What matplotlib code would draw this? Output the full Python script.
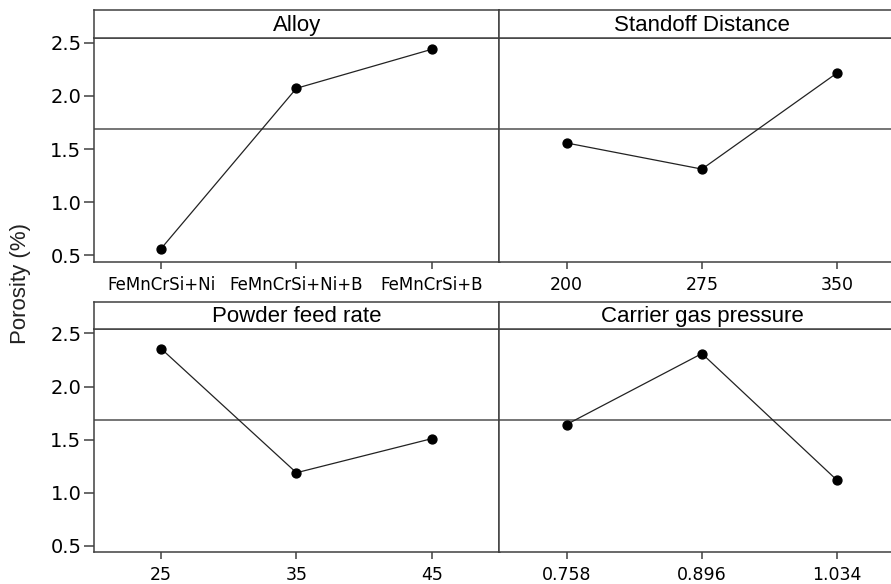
import matplotlib
matplotlib.use('Agg')
import matplotlib.pyplot as plt
import numpy as np

# main effects for porosity (%)
factors = ['Alloy', 'Standoff Distance', 'Powder feed rate', 'Carrier gas pressure']
levels = [
    ['FeMnCrSi+Ni', 'FeMnCrSi+Ni+B', 'FeMnCrSi+B'],
    ['200', '275', '350'],
    ['25', '35', '45'],
    ['0.758', '0.896', '1.034'],
]
alloy_means = [0.562, 2.071, 2.438]
standoff_means = [1.557, 1.311, 2.217]
feed_means = [2.358, 1.189, 1.510]
gas_means = [1.643, 2.311, 1.116]
all_means = [alloy_means, standoff_means, feed_means, gas_means]
yticks = [0.5, 1.0, 1.5, 2.0, 2.5]

W, H = 891, 584
fig = plt.figure(figsize=(W / 100, H / 100), dpi=100)
frame_c = '#404040'


def rect(x0, y0, x1, y1):
    # pixel box (top-left origin) -> figure fraction
    return [x0 / W, 1 - y1 / H, (x1 - x0) / W, (y1 - y0) / H]


# (left, right) x pixels and (strip top, data top, data bottom) y pixels
cols = [(94, 499.5), (499.5, 905)]
rows = [(9.7, 37.7, 261.7), (301.7, 328.5, 552.3)]

grand_mean = np.mean(np.concatenate(all_means))

for i in range(4):
    r, c = divmod(i, 2)
    x0, x1 = cols[c]
    st, dt, db = rows[r]
    ax = fig.add_axes(rect(x0, dt, x1, db))
    xs = np.arange(3)
    ax.axhline(grand_mean, color='#505050', lw=1.1, zorder=1)
    ax.plot(xs, all_means[i], '-', color='#222222', lw=0.9, zorder=2)
    ax.plot(xs, all_means[i], 'o', color='black', ms=6.4, zorder=3)
    ax.set_xlim(-0.495, 2.5)
    ax.set_ylim(0.44, 2.547)
    ax.set_xticks(xs)
    if r == 0 and c == 0:
        ax.set_xticklabels(levels[i], fontsize=12, family='DejaVu Sans')
    elif r == 0:
        ax.set_xticklabels(levels[i], fontsize=12.5, family='DejaVu Sans')
    else:
        ax.set_xticklabels(levels[i], fontsize=12.5,
                           family=['Liberation Sans Narrow', 'DejaVu Sans'])
    ax.tick_params(axis='x', direction='out', length=5, width=1.1,
                   color=frame_c, pad=5)
    if c == 0:
        ax.set_yticks(yticks)
        ax.set_yticklabels(['%.1f' % v for v in yticks], fontsize=14,
                           family='DejaVu Sans')
        ax.tick_params(axis='y', direction='out', length=7, width=1.1,
                       color=frame_c, pad=2)
    else:
        ax.set_yticks([])
    for s in ax.spines.values():
        s.set_color(frame_c)
        s.set_linewidth(1.1)

    # title strip
    sx = fig.add_axes(rect(x0, st, x1, dt))
    sx.set_xticks([])
    sx.set_yticks([])
    for s in sx.spines.values():
        s.set_color(frame_c)
        s.set_linewidth(1.1)
    sx.text(0.5, 0.45, factors[i], ha='center', va='center',
            fontsize=16, family='Liberation Sans', transform=sx.transAxes)

fig.text(21 / W, 1 - 283 / H, 'Porosity (%)', rotation=90, ha='center',
         va='center', fontsize=16, family='Liberation Sans', color='#222222')

fig.savefig('out.png', dpi=100)
